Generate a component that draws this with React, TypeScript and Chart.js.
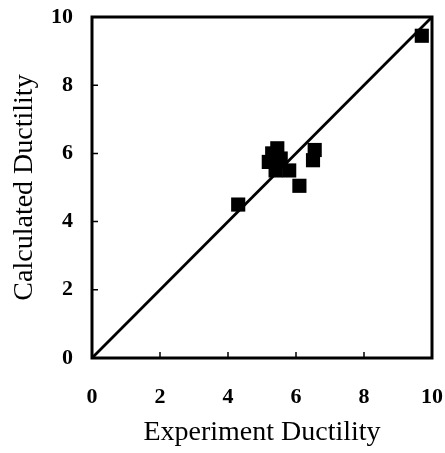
import React, { useEffect, useRef } from "react";
import { Chart, registerables } from "chart.js";

Chart.register(...registerables);

const experiment = [4.3, 9.7, 5.2, 5.3, 5.45, 5.4, 5.55, 5.8, 6.1, 6.5, 6.55];
const calculated = [4.5, 9.45, 5.75, 6.0, 6.15, 5.5, 5.85, 5.5, 5.05, 5.8, 6.1];
const diagonal = [0, 10];
const tickValues = [0, 2, 4, 6, 8, 10];

const framePlugin = {
  id: "frame",
  afterDraw(chart: any) {
    const { ctx, chartArea } = chart;
    const xs = chart.scales.x;
    const ys = chart.scales.y;
    ctx.save();
    ctx.strokeStyle = "#000";
    ctx.lineWidth = 1.5;
    ctx.beginPath();
    tickValues.slice(1, -1).forEach((v) => {
      const px = xs.getPixelForValue(v);
      ctx.moveTo(px, chartArea.bottom);
      ctx.lineTo(px, chartArea.bottom - 6);
      const py = ys.getPixelForValue(v);
      ctx.moveTo(chartArea.left, py);
      ctx.lineTo(chartArea.left + 6, py);
    });
    ctx.stroke();
    ctx.lineWidth = 3;
    ctx.strokeRect(
      chartArea.left,
      chartArea.top,
      chartArea.right - chartArea.left,
      chartArea.bottom - chartArea.top
    );
    ctx.restore();
  },
};

export default function App() {
  const ref = useRef<HTMLCanvasElement>(null);
  useEffect(() => {
    if (!ref.current) return;
    const chart = new Chart(ref.current, {
      type: "scatter",
      data: {
        datasets: [
          {
            type: "line",
            data: diagonal.map((v) => ({ x: v, y: v })),
            borderColor: "#000",
            borderWidth: 2.8,
            pointRadius: 0,
            order: 2,
          } as any,
          {
            data: experiment.map((x, i) => ({ x, y: calculated[i] })),
            backgroundColor: "#000",
            borderColor: "#000",
            pointStyle: "rect",
            pointRadius: 10,
            pointBorderWidth: 0,
            order: 1,
          },
        ],
      },
      plugins: [framePlugin],
      options: {
        animation: false,
        responsive: false,
        layout: { padding: { left: 0, right: 13, top: 17, bottom: 0 } },
        plugins: { legend: { display: false }, tooltip: { enabled: false } },
        scales: {
          x: {
            type: "linear",
            min: 0,
            max: 10,
            afterBuildTicks: (s: any) => {
              s.ticks = tickValues.map((v) => ({ value: v }));
            },
            afterFit: (s: any) => {
              s.height = 95;
              s.paddingLeft = 0;
              s.paddingRight = 0;
            },
            grid: { display: false, drawTicks: false },
            border: { display: false },
            ticks: {
              padding: 26,
              color: "#000",
              font: { family: "Liberation Serif", size: 22, weight: "bold" },
            },
            title: {
              display: true,
              text: "Experiment Ductility",
              color: "#000",
              font: { family: "Liberation Serif", size: 28 },
              padding: { top: 0, bottom: 4 },
            },
          },
          y: {
            type: "linear",
            min: 0,
            max: 10,
            afterBuildTicks: (s: any) => {
              s.ticks = tickValues.map((v) => ({ value: v }));
            },
            afterFit: (s: any) => {
              s.width = 92;
              s.paddingTop = 0;
              s.paddingBottom = 0;
            },
            grid: { display: false, drawTicks: false },
            border: { display: false },
            ticks: {
              padding: 19,
              color: "#000",
              font: { family: "Liberation Serif", size: 22, weight: "bold" },
            },
            title: {
              display: true,
              text: "Calculated Ductility",
              color: "#000",
              font: { family: "Liberation Serif", size: 28 },
              padding: { top: 8, bottom: 0 },
            },
          },
        },
      },
    });
    return () => chart.destroy();
  }, []);
  return (
    <div style={{ position: "fixed", left: 0, top: 0, width: 445, height: 453, background: "#fff" }}>
      <canvas ref={ref} width={445} height={453} style={{ display: "block" }} />
    </div>
  );
}
